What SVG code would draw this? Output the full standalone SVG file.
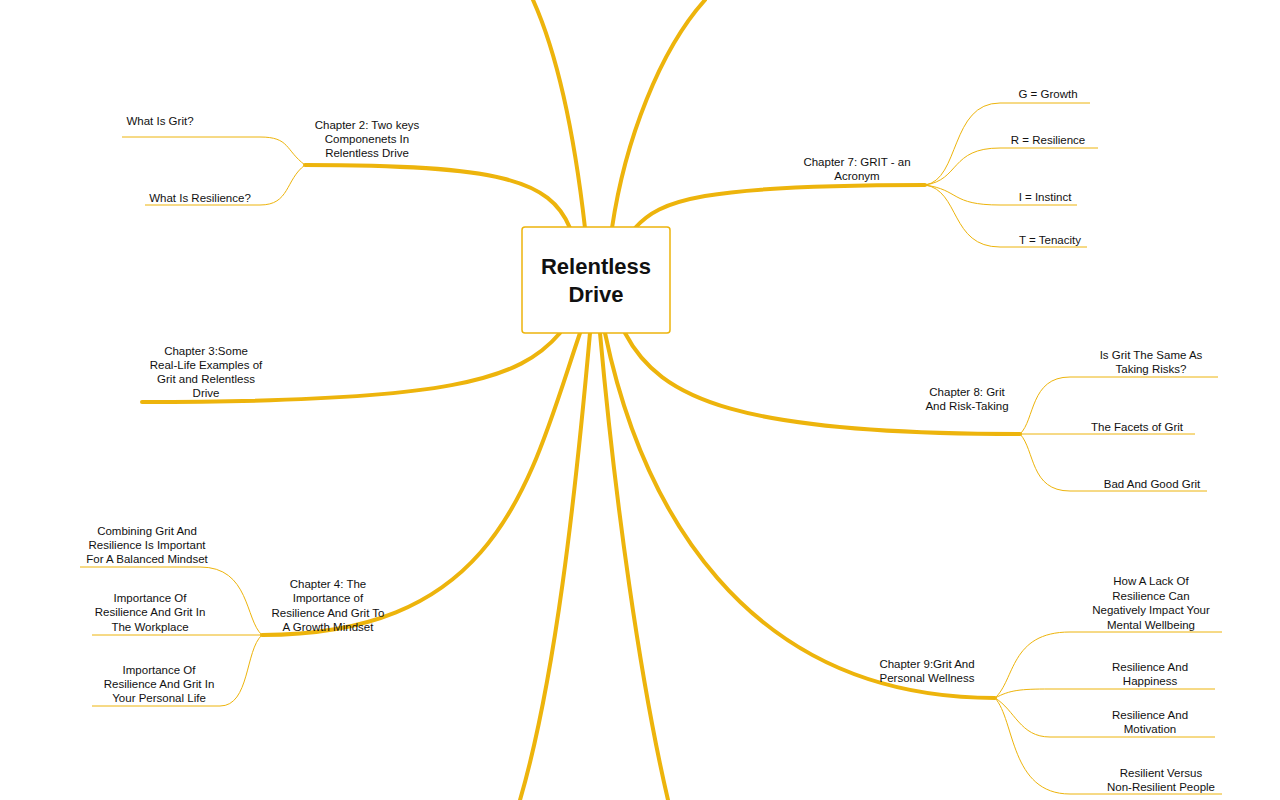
<svg xmlns="http://www.w3.org/2000/svg" width="1280" height="800" viewBox="0 0 1280 800">
<style>
.m{fill:none;stroke:#EDB40C;stroke-width:4;stroke-linecap:round}
.s{fill:none;stroke:#EDB40C;stroke-width:1}
text{font-family:"Liberation Sans",Arial,sans-serif;font-size:11.5px;fill:#111;text-anchor:middle}
.c{font-size:22px;font-weight:bold}
</style>
<rect width="1280" height="800" fill="#fff"/>
<g id="connectors">
<path class="m" d="M585 228 C575 140 560 60 533 0"/>
<path class="m" d="M612 228 C625 140 660 50 705 0"/>
<path class="m" d="M570 228 C550 180 500 165 305 165"/>
<path class="m" d="M635 228 C660 200 700 185 925 185"/>
<path class="m" d="M560 333 C520 380 450 402 142 402"/>
<path class="m" d="M625 333 C660 400 740 434 1020 434"/>
<path class="m" d="M580 333 C530 480 500 635 262 635"/>
<path class="m" d="M605 333 C640 500 740 698 995 698"/>
<path class="m" d="M590 333 C575 500 555 680 520 800"/>
<path class="m" d="M600 333 C615 500 640 680 668 800"/>
<path class="s" d="M305 165 C285 150 290 137 260 137 L122 137"/>
<path class="s" d="M305 165 C285 180 290 205 260 205 L145 205"/>
<path class="s" d="M925 185 C960 180 950 103 1000 103 L1090 103"/>
<path class="s" d="M925 185 C960 180 950 148 1000 148 L1098 148"/>
<path class="s" d="M925 185 C960 190 950 205 1000 205 L1077 205"/>
<path class="s" d="M925 185 C960 190 950 247 1000 247 L1087 247"/>
<path class="s" d="M1020 434 C1035 420 1030 377 1070 377 L1218 377"/>
<path class="s" d="M1020 434 L1195 434"/>
<path class="s" d="M1020 434 C1035 450 1030 491 1070 491 L1207 491"/>
<path class="s" d="M262 635 C245 620 250 567 200 567 L80 567"/>
<path class="s" d="M262 635 L92 635"/>
<path class="s" d="M262 635 C245 650 250 706 220 706 L92 706"/>
<path class="s" d="M995 698 C1015 680 1010 632 1070 632 L1222 632"/>
<path class="s" d="M995 698 C1010 690 1020 689 1050 689 L1215 689"/>
<path class="s" d="M995 698 C1015 710 1020 737 1050 737 L1215 737"/>
<path class="s" d="M995 698 C1015 720 1010 794 1070 794 L1222 794"/>
</g>
<g id="center"><rect x="522" y="227" width="148" height="106" rx="3" fill="#fff" stroke="#EDB40C" stroke-width="1.5"/>
<text class="c" x="596" y="274">Relentless</text><text class="c" x="596" y="302">Drive</text></g>
<g id="ch2"><text x="367" y="129">Chapter 2: Two keys</text><text x="367" y="143">Componenets In</text><text x="367" y="157">Relentless Drive</text></g>
<g id="n21"><text x="160" y="125">What Is Grit?</text></g>
<g id="n22"><text x="200" y="202">What Is Resilience?</text></g>
<g id="ch7"><text x="857" y="166">Chapter 7: GRIT - an</text><text x="857" y="180">Acronym</text></g>
<g id="n71"><text x="1048" y="98">G = Growth</text></g>
<g id="n72"><text x="1048" y="144">R = Resilience</text></g>
<g id="n73"><text x="1045" y="201">I = Instinct</text></g>
<g id="n74"><text x="1050" y="244">T = Tenacity</text></g>
<g id="ch3"><text x="206" y="355">Chapter 3:Some</text><text x="206" y="369">Real-Life Examples of</text><text x="206" y="383">Grit and Relentless</text><text x="206" y="397">Drive</text></g>
<g id="ch8"><text x="967" y="396">Chapter 8: Grit</text><text x="967" y="410">And Risk-Taking</text></g>
<g id="n81"><text x="1151" y="359">Is Grit The Same As</text><text x="1151" y="373">Taking Risks?</text></g>
<g id="n82"><text x="1137" y="431">The Facets of Grit</text></g>
<g id="n83"><text x="1152" y="488">Bad And Good Grit</text></g>
<g id="ch4"><text x="328" y="588">Chapter 4: The</text><text x="328" y="602">Importance of</text><text x="328" y="617">Resilience And Grit To</text><text x="328" y="631">A Growth Mindset</text></g>
<g id="n41"><text x="147" y="535">Combining Grit And</text><text x="147" y="549">Resilience Is Important</text><text x="147" y="563">For A Balanced Mindset</text></g>
<g id="n42"><text x="150" y="602">Importance Of</text><text x="150" y="616">Resilience And Grit In</text><text x="150" y="631">The Workplace</text></g>
<g id="n43"><text x="159" y="674">Importance Of</text><text x="159" y="688">Resilience And Grit In</text><text x="159" y="702">Your Personal Life</text></g>
<g id="ch9"><text x="927" y="668">Chapter 9:Grit And</text><text x="927" y="682">Personal Wellness</text></g>
<g id="n91"><text x="1151" y="585">How A Lack Of</text><text x="1151" y="600">Resilience Can</text><text x="1151" y="614">Negatively Impact Your</text><text x="1151" y="629">Mental Wellbeing</text></g>
<g id="n92"><text x="1150" y="671">Resilience And</text><text x="1150" y="685">Happiness</text></g>
<g id="n93"><text x="1150" y="719">Resilience And</text><text x="1150" y="733">Motivation</text></g>
<g id="n94"><text x="1161" y="777">Resilient Versus</text><text x="1161" y="791">Non-Resilient People</text></g>
</svg>
